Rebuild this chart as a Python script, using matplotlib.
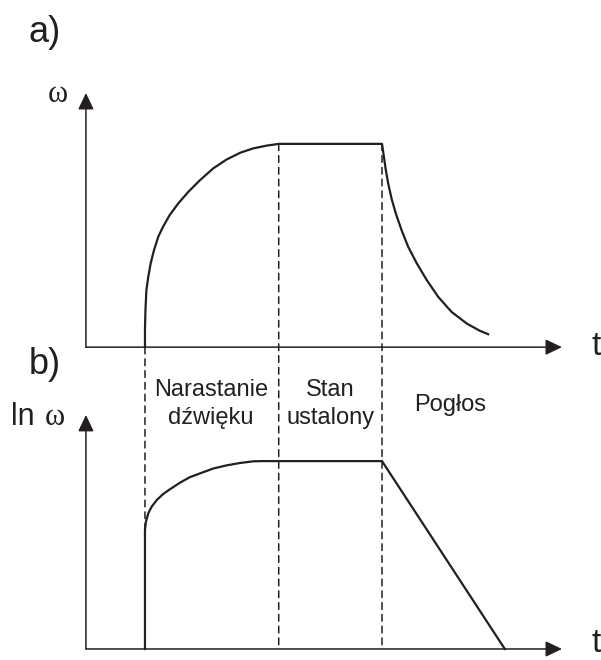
"""
Sound envelope sketch: omega(t) and ln omega(t) with the three phases
(build-up, steady state, reverberation) marked by dashed lines.
"""
import matplotlib
matplotlib.use("Agg")
import matplotlib.pyplot as plt
from matplotlib.patches import ConnectionPatch

plt.rcParams["font.family"] = ["Liberation Sans", "DejaVu Sans"]

INK = "#231f20"

# phase boundaries (t in arbitrary units, axis runs 0..100)
T_ONSET = 12.4
T_STEADY = 40.5
T_DECAY = 62.2

# panel a) omega(t): build-up, plateau, exponential decay
t_a = [12.4, 12.4, 12.5, 12.7, 13.1, 13.6, 14.3, 15.2, 16.2, 17.6, 19.4, 21.5, 23.95,
       26.7, 29.5, 32.4, 35.1, 37.9, 40.5,
       62.2, 62.6, 63.0, 63.5, 64.2, 65.1, 66.3, 67.7, 69.5, 71.6, 74.0, 76.8, 80.0, 82.8, 84.5]
w_a = [0, 6.7, 14.6, 22.4, 27.7, 33.0, 38.2, 43.5, 47.4, 52.0, 56.6, 61.1, 65.7,
       70.3, 73.8, 76.5, 78.2, 79.3, 80.0,
       80.0, 74.9, 69.7, 64.4, 58.5, 52.6, 46.1, 39.5, 33.0, 26.4, 19.8, 13.9, 9.3, 6.4, 5.1]

# panel b) ln omega(t): jump, build-up, plateau, linear decay
t_b = [12.4, 12.4, 12.6, 13.1, 13.8, 14.9, 16.2, 17.6, 19.7, 21.8, 24.3, 26.7, 29.6,
       32.4, 35.1, 37.2, 62.2, 88.0]
w_b = [0, 50.9, 54.4, 58.0, 60.8, 63.7, 66.2, 68.2, 71.0, 73.4, 75.3, 77.1, 78.5,
       79.5, 80.2, 80.3, 80.3, 0]

phase_labels = ["Narastanie\ndźwięku", "Stan\nustalony", "Pogłos"]
phase_x = [26.3, 51.3, 76.5]

fig = plt.figure(figsize=(6.01, 6.6), dpi=100)
ax_a = fig.add_axes([0.143, 0.474, 0.792, 0.385])
ax_b = fig.add_axes([0.143, 0.0167, 0.792, 0.3545])

arrow = dict(arrowstyle="-|>,head_length=0.5,head_width=0.24", mutation_scale=20,
             lw=1.1, color=INK, shrinkA=0, shrinkB=0)
for ax in (ax_a, ax_b):
    ax.set_xlim(0, 100)
    ax.set_ylim(0, 100)
    ax.axis("off")
    ax.annotate("", xy=(100, 0), xytext=(0, 0), arrowprops=arrow, annotation_clip=False)
    ax.annotate("", xy=(0, 100), xytext=(0, 0), arrowprops=arrow, annotation_clip=False)

ax_a.text(107.1, -3.2, "t", fontsize=24, color=INK, ha="center", va="baseline", clip_on=False)
ax_b.text(107.1, -4.3, "t", fontsize=24, color=INK, ha="center", va="bottom", clip_on=False)

ax_a.plot(t_a, w_a, color=INK, lw=1.6, solid_joinstyle="round", clip_on=False)
ax_b.plot(t_b, w_b, color=INK, lw=1.6, solid_joinstyle="round", clip_on=False)

# dashed phase boundaries running through both panels
dash = dict(ls=(0, (4.4, 3.3)), lw=1.1, color=INK)
fig.add_artist(ConnectionPatch((T_ONSET, 0), (T_ONSET, w_b[1]), ax_a.transData, ax_b.transData, **dash))
fig.add_artist(ConnectionPatch((T_STEADY, w_a[18]), (T_STEADY, 0), ax_a.transData, ax_b.transData, **dash))
fig.add_artist(ConnectionPatch((T_DECAY, w_a[19]), (T_DECAY, 0), ax_a.transData, ax_b.transData, **dash))

# axis labels
ax_a.text(-6.0, 96.5, "ω", fontsize=22, family="Liberation Serif", color=INK,
          ha="center", va="baseline", clip_on=False)
ax_b.text(-10.7, 95.7, "ln", fontsize=22, color=INK, ha="right", va="baseline", clip_on=False)
ax_b.text(-6.5, 95.7, "ω", fontsize=22, family="Liberation Serif", color=INK,
          ha="center", va="baseline", clip_on=False)

# phase names (va="baseline" refers to the last line of a multi-line text)
ax_b.text(phase_x[0], 96.2, phase_labels[0], fontsize=17, color=INK, ha="center", va="baseline",
          linespacing=1.35, clip_on=False)
ax_b.text(phase_x[1], 96.2, phase_labels[1], fontsize=17, color=INK, ha="center", va="baseline",
          linespacing=1.35, clip_on=False)
ax_b.text(phase_x[2], 101.7, phase_labels[2], fontsize=17, color=INK, ha="center", va="baseline",
          clip_on=False)

fig.text(0.047, 0.936, "a)", fontsize=26, color=INK, va="baseline")
fig.text(0.047, 0.433, "b)", fontsize=26, color=INK, va="baseline")

fig.savefig("out.png", dpi=100, facecolor="white")
